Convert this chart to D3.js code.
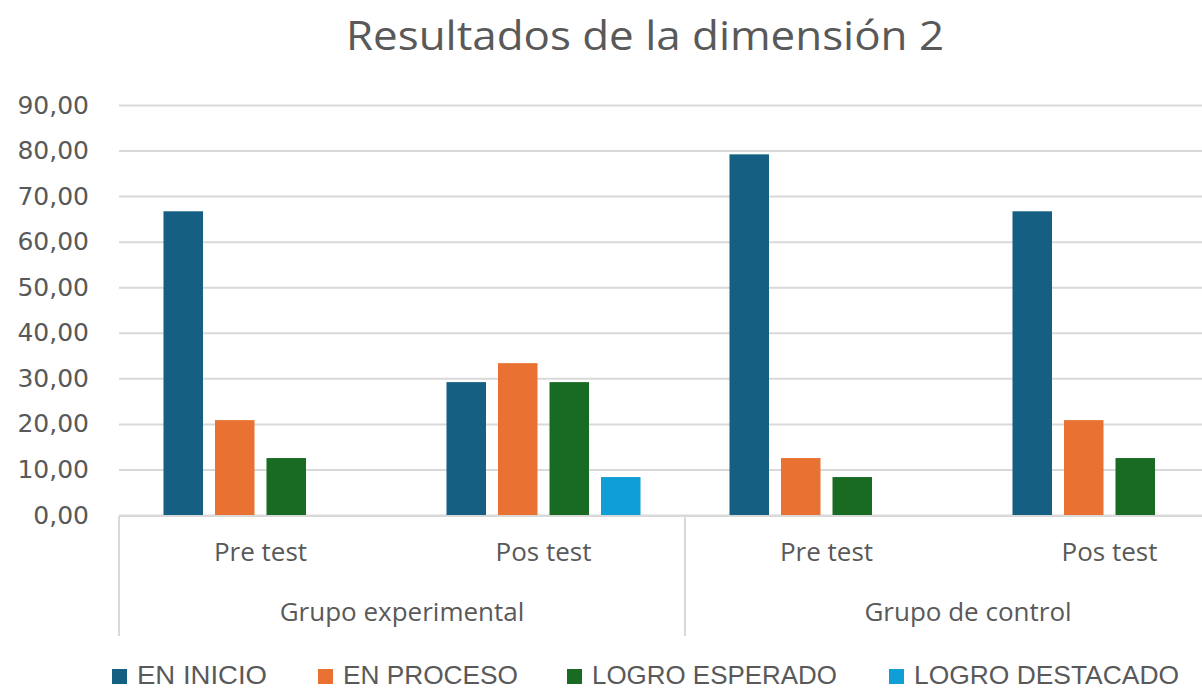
<!DOCTYPE html>
<html>
<head>
<meta charset="utf-8">
<script src="https://cdn.jsdelivr.net/npm/d3@7"></script>
<style>
  body { margin: 0; background: #fff; }
  svg { display: block; }
</style>
</head>
<body>
<script>
// datos
var grupos = ["Grupo experimental", "Grupo de control"]
var momentos = ["Pre test", "Pos test"]
var series = ["EN INICIO", "EN PROCESO", "LOGRO ESPERADO", "LOGRO DESTACADO"]
var enInicio = [66.67, 29.17, 79.17, 66.67]
var enProceso = [20.83, 33.33, 12.50, 20.83]
var logroEsperado = [12.50, 29.17, 8.33, 12.50]
var logroDestacado = [0, 8.33, 0, 0]
var ticksY = [0, 10, 20, 30, 40, 50, 60, 70, 80, 90]

var colores = ["#156082", "#E97132", "#196B24", "#0F9ED5"]
var valores = [enInicio, enProceso, logroEsperado, logroDestacado]

var width = 1202
var height = 691
var margin = { top: 105, bottom: 515, left: 119, right: 1251 }

// una fila por combinacion grupo / momento
var filas = []
grupos.forEach(function(g, gi) {
    momentos.forEach(function(m, mi) {
        var i = gi * momentos.length + mi
        filas.push({ key: g + "|" + m, grupo: g, momento: m,
            vals: series.map(function(s, si) { return { serie: s, v: valores[si][i] } }) })
    })
})

var escalaY = d3.scaleLinear()
    .domain([0, 90])
    .range([margin.bottom, margin.top])

var escalaX0 = d3.scaleBand()
    .domain(filas.map(d => d.key))
    .range([margin.left, margin.right])
    .paddingInner(0.272)
    .paddingOuter(0.136)

var escalaX1 = d3.scaleBand()
    .domain(series)
    .range([0, escalaX0.bandwidth()])
    .paddingInner(0.233)
    .paddingOuter(0.1165)

var escalaG = d3.scaleBand()
    .domain(grupos)
    .range([margin.left, margin.right])

var color = d3.scaleOrdinal().domain(series).range(colores)

var locale = d3.formatLocale({ decimal: ",", thousands: ".", grouping: [3], currency: ["", ""] })
var fmt = locale.format(".2f")

var svg = d3.select("body")
    .append("svg")
    .attr("width", width)
    .attr("height", height)

// titulo
svg.append("text")
    .attr("x", 645)
    .attr("y", 50)
    .attr("text-anchor", "middle")
    .attr("font-family", "Open Sans")
    .attr("font-size", 40)
    .attr("fill", "#595959")
    .attr("textLength", 598)
    .attr("lengthAdjust", "spacingAndGlyphs")
    .text("Resultados de la dimensión 2")

// grilla y eje Y
var ejeY = d3.axisLeft(escalaY)
    .tickValues(ticksY)
    .tickFormat(fmt)
    .tickSize(-(margin.right - margin.left))
    .tickPadding(30)

var gY = svg.append("g")
    .attr("transform", "translate(" + margin.left + ",0)")
    .call(ejeY)
gY.select(".domain").remove()
gY.selectAll(".tick line")
    .attr("stroke", "#d9d9d9")
    .attr("stroke-width", 2)
gY.selectAll(".tick text")
    .attr("font-family", "DejaVu Sans")
    .attr("font-size", 25)
    .attr("fill", "#595959")

// barras
svg.append("g")
    .selectAll("g")
    .data(filas)
    .enter()
    .append("g")
    .attr("transform", d => "translate(" + escalaX0(d.key) + ",0)")
    .selectAll("rect")
    .data(d => d.vals)
    .enter()
    .append("rect")
        .attr("x", d => escalaX1(d.serie))
        .attr("y", d => escalaY(d.v))
        .attr("width", escalaX1.bandwidth())
        .attr("height", d => escalaY(0) - escalaY(d.v))
        .attr("fill", d => color(d.serie))

// eje X de dos niveles
var base = escalaY(0) + 1
var ejeX = svg.append("g")
ejeX.append("line")
    .attr("x1", margin.left).attr("x2", margin.right)
    .attr("y1", base).attr("y2", base)
    .attr("stroke", "#d9d9d9").attr("stroke-width", 2)

var limites = grupos.map(g => escalaG(g)).concat([margin.right])
ejeX.selectAll(".div")
    .data(limites)
    .enter()
    .append("line")
    .attr("x1", d => d).attr("x2", d => d)
    .attr("y1", base).attr("y2", 636)
    .attr("stroke", "#d9d9d9").attr("stroke-width", 2)

ejeX.selectAll(".cat")
    .data(filas)
    .enter()
    .append("text")
    .attr("x", d => escalaX0(d.key) + escalaX0.bandwidth() / 2)
    .attr("y", 561)
    .attr("text-anchor", "middle")
    .attr("font-family", "Open Sans")
    .attr("font-size", 26)
    .attr("fill", "#595959")
    .text(d => d.momento)

ejeX.selectAll(".grp")
    .data(grupos)
    .enter()
    .append("text")
    .attr("x", d => escalaG(d) + escalaG.bandwidth() / 2)
    .attr("y", 621)
    .attr("text-anchor", "middle")
    .attr("font-family", "Open Sans")
    .attr("font-size", 26)
    .attr("fill", "#595959")
    .text(d => d)

// leyenda
var leyX = [112, 318, 567, 889]
var leyLargo = [130, 175, 245, 265]
var leyenda = svg.append("g")
    .selectAll("g")
    .data(series)
    .enter()
    .append("g")
    .attr("transform", (d, i) => "translate(" + leyX[i] + ",0)")
leyenda.append("rect")
    .attr("x", 0)
    .attr("y", 669)
    .attr("width", 15)
    .attr("height", 15)
    .attr("fill", d => color(d))
leyenda.append("text")
    .attr("x", 25)
    .attr("y", 684)
    .attr("font-family", "Liberation Sans")
    .attr("font-size", 26)
    .attr("fill", "#595959")
    .attr("textLength", (d, i) => leyLargo[i])
    .attr("lengthAdjust", "spacingAndGlyphs")
    .text(d => d)
</script>
</body>
</html>
